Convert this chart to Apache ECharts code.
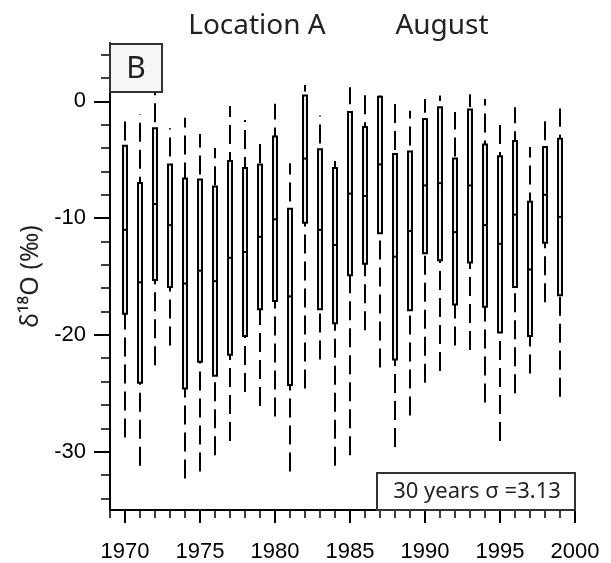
<!DOCTYPE html>
<html>
<head>
<meta charset="utf-8">
<script src="https://cdn.jsdelivr.net/npm/echarts@6/dist/echarts.min.js"></script>
<style>html,body{margin:0;padding:0;background:#fff;}#c{width:611px;height:563px;}</style>
</head>
<body>
<div id="c"></div>
<script>
// Data (δ18O, ‰)
var years        = [1970,1971,1972,1973,1974,1975,1976,1977,1978,1979,1980,1981,1982,1983,1984,1985,1986,1987,1988,1989,1990,1991,1992,1993,1994,1995,1996,1997,1998,1999];
var whiskerTop   = [-1.3,-1.1, 0.8,-2.3,-1.4,-2.8,-4.0,-0.4,-1.6,-3.3,-0.2,-5.3, 1.4,-1.2,-5.1, 1.2, 0.9, 0.5,-0.2,-0.8, 0.2, 0.5,-0.9, 0.6, 0.2,-1.8,-0.5,-3.9,-1.6,-0.6];
var boxTop       = [-3.8,-7.0,-2.3,-5.4,-6.6,-6.7,-7.3,-5.1,-5.7,-5.4,-3.0,-9.2, 0.5,-4.1,-5.7,-0.9,-2.2, 0.4,-4.5,-4.3,-1.5,-0.5,-4.9,-0.7,-3.7,-4.7,-3.4,-8.6,-3.9,-3.2];
var medians      = [-11.0,-15.5,-8.8,-10.6,-15.6,-14.5,-15.4,-13.4,-12.9,-11.6,-10.1,-16.7,-4.9,-11.0,-12.3,-7.9,-8.1,-5.4,-13.3,-11.1,-7.2,-7.0,-11.2,-7.2,-10.6,-12.2,-9.7,-14.4,-8.0,-9.9];
var boxBottom    = [-18.2,-24.1,-15.3,-15.9,-24.6,-22.3,-23.5,-21.7,-20.1,-17.8,-17.1,-24.3,-10.4,-17.8,-19.0,-14.9,-13.9,-11.3,-22.1,-17.9,-13.0,-13.6,-17.4,-13.8,-17.6,-19.8,-15.9,-20.1,-12.1,-16.6];
var whiskerBot   = [-28.8,-31.2,-22.6,-20.9,-32.3,-31.7,-30.3,-29.1,-24.9,-26.1,-27.0,-31.7,-24.6,-22.1,-31.2,-30.3,-19.6,-22.8,-29.6,-26.9,-24.1,-23.1,-20.9,-21.3,-25.8,-29.1,-25.0,-23.3,-17.2,-25.3];
var xTickLabels  = [1970,1975,1980,1985,1990,1995,2000];
var xMinorTicks  = [1969,1970,1971,1972,1973,1974,1975,1976,1977,1978,1979,1980,1981,1982,1983,1984,1985,1986,1987,1988,1989,1990,1991,1992,1993,1994,1995,1996,1997,1998,1999,2000];
var yTickLabels  = [-30,-20,-10,0];
var yMinorTicks  = [-34,-32,-30,-28,-26,-24,-22,-20,-18,-16,-14,-12,-10,-8,-6,-4,-2,0,2,4];
var titleLeft = 'Location A', titleRight = 'August', panelTag = 'B', statText = '30 years σ =3.13';

var data = years.map(function(y,i){ return [y, whiskerTop[i], boxTop[i], medians[i], boxBottom[i], whiskerBot[i]]; });

var chart = echarts.init(document.getElementById('c'), null, {renderer:'canvas'});
var LBL = {color:'#000', fontFamily:'Liberation Sans', fontSize:22};
var myr = 'Noto Sans';
chart.setOption({
  animation:false,
  backgroundColor:'#fff',
  grid:{left:110, right:36, top:43, bottom:53},
  xAxis:[
    {type:'value', min:1969, max:2000,
     axisLine:{show:true, onZero:false, lineStyle:{color:'#000', width:2}},
     axisTick:{show:true, length:13, lineStyle:{color:'#000', width:2}, customValues:xTickLabels},
     axisLabel:{show:true, margin:31, customValues:xTickLabels, formatter:function(v){return String(v);}, color:LBL.color, fontFamily:LBL.fontFamily, fontSize:LBL.fontSize},
     splitLine:{show:false}},
    {type:'value', min:1969, max:2000, position:'bottom',
     axisLine:{show:false, onZero:false},
     axisTick:{show:true, length:8, lineStyle:{color:'#000', width:1.5}, customValues:xMinorTicks},
     axisLabel:{show:false}, splitLine:{show:false}}
  ],
  yAxis:[
    {type:'value', min:-35, max:5,
     name:'δ¹⁸O (‰)', nameLocation:'middle', nameGap:52, nameRotate:90,
     nameTextStyle:{color:'#222', fontFamily:myr, fontSize:25},
     axisLine:{show:true, onZero:false, lineStyle:{color:'#000', width:2}},
     axisTick:{show:true, length:16, lineStyle:{color:'#000', width:2}, customValues:yTickLabels},
     axisLabel:{show:true, margin:24, customValues:yTickLabels, color:LBL.color, fontFamily:LBL.fontFamily, fontSize:LBL.fontSize},
     splitLine:{show:false}},
    {type:'value', min:-35, max:5, position:'left',
     axisLine:{show:false, onZero:false},
     axisTick:{show:true, length:9, lineStyle:{color:'#000', width:1.5}, customValues:yMinorTicks},
     axisLabel:{show:false}, splitLine:{show:false}}
  ],
  series:[{
    type:'custom',
    data:data,
    encode:{x:0, y:[1,2,3,4,5]},
    clip:false,
    renderItem:function(params, api){
      var x = api.value(0);
      var top = api.coord([x, api.value(1)]);
      var q3  = api.coord([x, api.value(2)]);
      var med = api.coord([x, api.value(3)]);
      var q1  = api.coord([x, api.value(4)]);
      var bot = api.coord([x, api.value(5)]);
      var hw = 2;
      return {type:'group', children:[
        {type:'line', shape:{x1:bot[0], y1:bot[1], x2:top[0], y2:top[1]},
         style:{stroke:'#000', lineWidth:2, lineDash:[19,8]}},
        {type:'rect', shape:{x:q3[0]-hw, y:q3[1], width:2*hw, height:q1[1]-q3[1]},
         style:{fill:'#eeeeee', stroke:'#000', lineWidth:2}},
        {type:'line', shape:{x1:med[0]-hw-1, y1:med[1], x2:med[0]+hw+1, y2:med[1]},
         style:{stroke:'#000', lineWidth:2}}
      ]};
    }
  }],
  graphic:[
    {type:'text', z:100, x:257, y:26, style:{text:titleLeft, fontFamily:myr, fontSize:28, fill:'#222', align:'center', verticalAlign:'middle'}},
    {type:'text', z:100, x:442, y:26, style:{text:titleRight, fontFamily:myr, fontSize:28, fill:'#222', align:'center', verticalAlign:'middle'}},
    {type:'rect', z:100, shape:{x:110, y:44, width:52, height:48}, style:{fill:'#f5f6f8', stroke:'#333', lineWidth:2}},
    {type:'text', z:101, x:136, y:69, style:{text:panelTag, fontFamily:myr, fontSize:30, fill:'#222', align:'center', verticalAlign:'middle'}},
    {type:'rect', z:100, shape:{x:377, y:473, width:198, height:37}, style:{fill:'#fff', stroke:'#333', lineWidth:2}},
    {type:'text', z:101, x:477, y:492, style:{text:statText, fontFamily:myr, fontSize:22, fill:'#222', align:'center', verticalAlign:'middle'}}
  ]
});
</script>
</body>
</html>
